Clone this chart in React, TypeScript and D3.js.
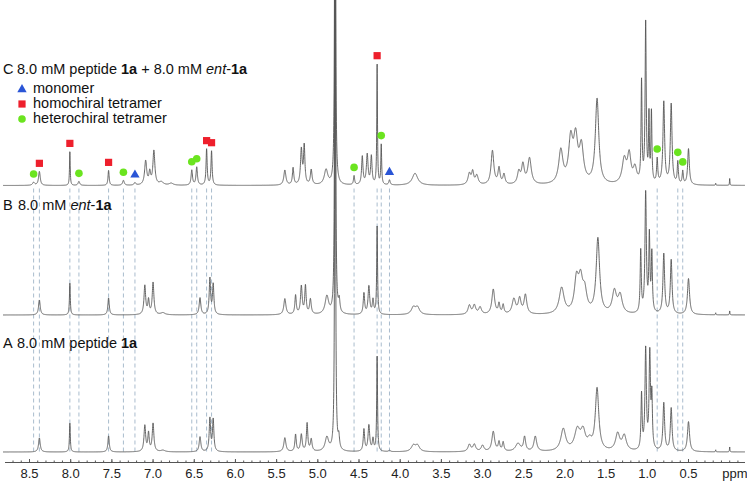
import React, { useMemo } from 'react';
import * as d3 from 'd3';

type Peak = [number, number, number]; // [ppm, height, half-width (ppm)]

// Spectrum C: 8.0 mM 1a + 8.0 mM ent-1a
const PEAKS_C: Peak[] = [
  [8.45, 3, 0.015], [8.38, 14, 0.012], [8.01, 34, 0.005], [7.90, 4, 0.012], [7.54, 15, 0.008],
  [7.36, 5, 0.012], [7.22, 2.5, 0.012], [7.09, 24, 0.015], [7.04, 12, 0.012], [6.99, 34, 0.014],
  [6.90, 3, 0.03], [6.78, 2, 0.03], [6.53, 15, 0.01], [6.47, 18, 0.01], [6.35, 36, 0.008],
  [6.29, 34, 0.008], [5.40, 15, 0.015], [5.30, 17, 0.01], [5.20, 35, 0.012], [5.165, 38, 0.01],
  [5.08, 15, 0.012], [4.90, 15, 0.025], [4.79, 700, 0.005], [4.56, 9, 0.008], [4.46, 28, 0.01],
  [4.40, 30, 0.012], [4.35, 28, 0.01], [4.28, 120, 0.005], [4.23, 40, 0.006], [4.13, 5, 0.01],
  [3.82, 12, 0.04], [3.16, 11, 0.02], [3.12, 12, 0.015], [3.07, 9, 0.02], [2.88, 34, 0.02],
  [2.80, 16, 0.015], [2.74, 10, 0.015], [2.56, 12, 0.02], [2.51, 19, 0.02], [2.43, 26, 0.025],
  [2.05, 33, 0.03], [1.93, 42, 0.03], [1.87, 42, 0.03], [1.80, 35, 0.03], [1.61, 85, 0.025],
  [1.28, 24, 0.03], [1.22, 28, 0.025], [1.15, 15, 0.025], [1.07, 100, 0.007], [1.02, 160, 0.008],
  [0.98, 65, 0.006], [0.95, 70, 0.007], [0.88, 24, 0.008], [0.80, 82, 0.012], [0.71, 80, 0.012],
  [0.63, 22, 0.008], [0.57, 13, 0.008], [0.50, 36, 0.012], [0.17, 2, 0.003], [0.0, 7, 0.003],
];

// Spectrum B: 8.0 mM ent-1a
const PEAKS_B: Peak[] = [
  [8.38, 15, 0.012], [8.01, 32, 0.006], [7.54, 17, 0.01], [7.10, 29, 0.012], [7.055, 14, 0.01],
  [7.00, 32, 0.012], [6.88, 2, 0.03], [6.43, 17, 0.012], [6.31, 36, 0.01], [6.27, 30, 0.01],
  [5.40, 16, 0.015], [5.27, 19, 0.01], [5.20, 28, 0.012], [5.15, 28, 0.01], [5.09, 15, 0.012],
  [4.89, 18, 0.025], [4.79, 700, 0.005], [4.74, 12, 0.01], [4.44, 21, 0.01], [4.38, 28, 0.012],
  [4.33, 14, 0.01], [4.28, 88, 0.006], [3.84, 7, 0.03], [3.79, 7, 0.03], [3.16, 9, 0.02],
  [3.10, 9, 0.02], [3.03, 7, 0.02], [2.87, 25, 0.02], [2.80, 10, 0.012], [2.75, 9, 0.012],
  [2.62, 15, 0.025], [2.55, 15, 0.02], [2.48, 19, 0.02], [2.04, 26, 0.035], [1.86, 32, 0.03],
  [1.81, 30, 0.03], [1.76, 20, 0.03], [1.60, 75, 0.025], [1.40, 22, 0.03], [1.33, 18, 0.03],
  [1.08, 62, 0.008], [1.02, 120, 0.01], [0.975, 75, 0.008], [0.945, 58, 0.008], [0.80, 60, 0.012],
  [0.71, 54, 0.012], [0.50, 36, 0.015], [0.17, 2, 0.003], [0.0, 4, 0.003],
];

// Spectrum A: 8.0 mM peptide 1a
const PEAKS_A: Peak[] = [
  [8.38, 14, 0.012], [8.01, 29, 0.006], [7.54, 16, 0.01], [7.10, 26, 0.012], [7.055, 18, 0.01],
  [7.00, 28, 0.012], [6.88, 1.5, 0.03], [6.43, 15, 0.012], [6.31, 33, 0.01], [6.27, 32, 0.01],
  [5.40, 14, 0.015], [5.27, 17, 0.01], [5.20, 17, 0.012], [5.13, 28, 0.01], [5.08, 12, 0.012],
  [4.89, 14, 0.025], [4.79, 700, 0.005], [4.745, 12, 0.01], [4.44, 22, 0.01], [4.38, 26, 0.012],
  [4.33, 12, 0.01], [4.28, 95, 0.006], [4.13, 1.5, 0.01], [3.84, 6, 0.03], [3.79, 6, 0.03],
  [3.16, 7, 0.02], [3.10, 7, 0.02], [3.00, 6, 0.02], [2.87, 20, 0.02], [2.80, 9, 0.012],
  [2.75, 9, 0.012], [2.57, 8, 0.035], [2.49, 14, 0.015], [2.36, 15, 0.02], [2.02, 22, 0.035],
  [1.85, 20, 0.04], [1.78, 18, 0.035], [1.70, 8, 0.03], [1.61, 62, 0.025], [1.36, 17, 0.03],
  [1.28, 15, 0.03], [1.07, 55, 0.008], [1.02, 100, 0.01], [0.97, 95, 0.01], [0.945, 50, 0.008],
  [0.80, 48, 0.012], [0.71, 43, 0.012], [0.50, 30, 0.015], [0.17, 2, 0.003], [0.0, 5, 0.003],
];

const MONOMER_PPM = [7.22, 4.13];
const HOMO_PPM = [8.38, 8.01, 7.54, 6.35, 6.29, 4.28];
const HETERO_PPM = [8.45, 7.90, 7.36, 6.53, 6.47, 4.56, 4.23, 0.88, 0.63, 0.57];

const MAJOR_TICKS = [8.5, 8.0, 7.5, 7.0, 6.5, 6.0, 5.5, 5.0, 4.5, 4.0, 3.5, 3.0, 2.5, 2.0, 1.5, 1.0, 0.5];

const W = 747;
const H = 483;
const FONT = '"Liberation Sans", Arial, Helvetica, sans-serif';
const GREEN = '#6be41f';
const RED = '#ee1f2c';
const BLUE = '#2a55d6';

function intensity(peaks: Peak[], p: number): number {
  let s = 0;
  for (const [c, h, w] of peaks) {
    const d = (p - c) / w;
    s += h / (1 + d * d);
  }
  return s;
}

export default function App() {
  const x = d3.scaleLinear().domain([8.5, 0.5]).range([29.5, 688.5]);
  const left = 3;
  const right = 745;
  const pStart = x.invert(left);
  const pEnd = x.invert(right);

  const baseC = 185.5;
  const baseB = 315;
  const baseA = 452;
  const yC = d3.scaleLinear().domain([0, 100]).range([baseC, baseC - 100]);
  const yB = d3.scaleLinear().domain([0, 100]).range([baseB, baseB - 100]);
  const yA = d3.scaleLinear().domain([0, 100]).range([baseA, baseA - 100]);

  const grid = useMemo(() => {
    const pts: number[] = [];
    const step = 0.0012;
    for (let p = pStart; p >= pEnd; p -= step) pts.push(p);
    return pts;
  }, [pStart, pEnd]);

  const makePath = (peaks: Peak[], y: d3.ScaleLinear<number, number>) =>
    d3
      .line<number>()
      .x((p) => x(p))
      .y((p) => Math.max(-50, y(intensity(peaks, p))))(grid) || '';

  const pathC = useMemo(() => makePath(PEAKS_C, yC), [grid]);
  const pathB = useMemo(() => makePath(PEAKS_B, yB), [grid]);
  const pathA = useMemo(() => makePath(PEAKS_A, yA), [grid]);

  const markerY = (p: number) => yC(intensity(PEAKS_C, p)) - 8;
  const allMarkers = [...MONOMER_PPM, ...HOMO_PPM, ...HETERO_PPM];

  const minorTicks = d3.range(87, -2, -1).map((v) => v / 10);
  const axisY = 462.5;
  const tri = d3.symbol().type(d3.symbolTriangle).size(38)() || '';
  const fmt = d3.format('.1f');

  return (
    <svg
      width={W}
      height={H}
      viewBox={`0 0 ${W} ${H}`}
      style={{ position: 'absolute', left: 0, top: 0, background: '#fff' }}
      fontFamily={FONT}
    >
      <rect x={0} y={0} width={W} height={H} fill="#fff" />
      {/* dashed guide lines */}
      <g stroke="#a9bccd" strokeWidth={1} strokeDasharray="4,3">
        {allMarkers.map((p, i) => (
          <line key={i} x1={x(p)} x2={x(p)} y1={baseC + 3} y2={baseA} />
        ))}
      </g>
      {/* spectra */}
      <g fill="none" stroke="#555" strokeWidth={0.9} strokeLinejoin="round">
        <path d={pathA} />
        <path d={pathB} />
        <path d={pathC} />
      </g>
      {/* markers on C */}
      {HETERO_PPM.map((p, i) => (
        <circle key={'h' + i} cx={x(p)} cy={markerY(p)} r={3.8} fill={GREEN} />
      ))}
      {HOMO_PPM.map((p, i) => (
        <rect key={'s' + i} x={x(p) - 3.6} y={markerY(p) - 3.6} width={7.2} height={7.2} fill={RED} />
      ))}
      {MONOMER_PPM.map((p, i) => (
        <path key={'t' + i} d={tri} transform={`translate(${x(p)},${markerY(p) + 0.5})`} fill={BLUE} />
      ))}

      {/* labels */}
      <g fontSize={14.5} fill="#111">
        <text x={3} y={74}>C</text>
        <text x={17} y={74}>
          8.0 mM peptide <tspan fontWeight="bold">1a</tspan> + 8.0 mM <tspan fontStyle="italic">ent</tspan>-
          <tspan fontWeight="bold">1a</tspan>
        </text>
        <text x={33} y={93}>monomer</text>
        <text x={33} y={108}>homochiral tetramer</text>
        <text x={33} y={123}>heterochiral tetramer</text>
        <text x={3} y={210}>B</text>
        <text x={18} y={210}>
          8.0 mM <tspan fontStyle="italic">ent</tspan>-<tspan fontWeight="bold">1a</tspan>
        </text>
        <text x={3} y={348}>A</text>
        <text x={17} y={348}>
          8.0 mM peptide <tspan fontWeight="bold">1a</tspan>
        </text>
      </g>
      {/* legend markers */}
      <path d={tri} transform="translate(22,89.5)" fill={BLUE} />
      <rect x={18.4} y={100.4} width={7.2} height={7.2} fill={RED} />
      <circle cx={22} cy={119} r={3.8} fill={GREEN} />

      {/* axis */}
      <g stroke="#555" strokeWidth={1}>
        <line x1={left + 2} x2={right} y1={axisY} y2={axisY} />
        {minorTicks.map((p, i) => (
          <line key={i} x1={x(p)} x2={x(p)} y1={axisY} y2={axisY - 2} />
        ))}
        {MAJOR_TICKS.map((p, i) => (
          <line key={'M' + i} x1={x(p)} x2={x(p)} y1={axisY} y2={axisY - 3.5} />
        ))}
      </g>
      <g fontSize={13} fill="#222" textAnchor="middle">
        {MAJOR_TICKS.map((p, i) => (
          <text key={i} x={x(p)} y={478}>
            {fmt(p)}
          </text>
        ))}
        <text x={735} y={478}>ppm</text>
      </g>
    </svg>
  );
}
